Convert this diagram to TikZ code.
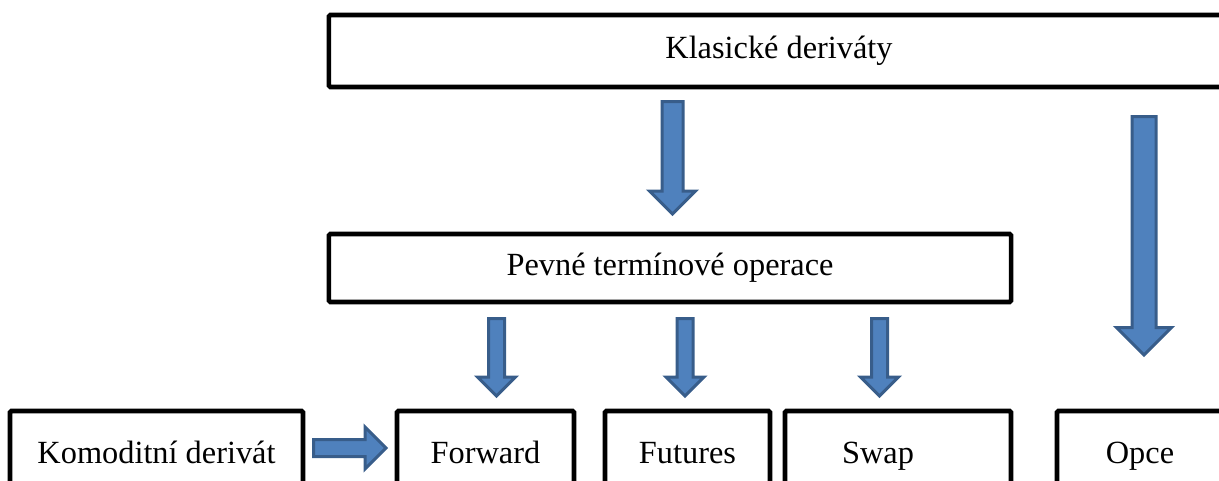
\documentclass[tikz,border=0pt]{standalone}
\usepackage{fontspec}
\setmainfont{Liberation Serif}
\tikzset{
  dbox/.style={draw, line width=0.115cm, rounded corners=1pt, inner sep=0pt,
    font=\fontsize{23}{27}\selectfont, text height=1em, text depth=0pt},
  barrow/.style={draw={rgb,255:red,56;green,93;blue,138},
    fill={rgb,255:red,79;green,129;blue,189}, line width=0.075cm, line join=miter}
}
% block arrow pointing down: x, top, tip, half shaft, half head
\newcommand{\blkdown}[5]{\draw[barrow] (#1-#4,#2) -- (#1+#4,#2) -- (#1+#4,#3-#5) -- (#1+#5,#3-#5) -- (#1,#3) -- (#1-#5,#3-#5) -- (#1-#4,#3-#5) -- cycle;}
\begin{document}
\begin{tikzpicture}[x=0.025cm,y=-0.025cm]
		\useasboundingbox (0,0) rectangle (1219,481);
		\clip (0,0) rectangle (1219,481);
		\node[dbox, minimum width=22.5cm, minimum height=1.8cm] (klas) at (779,51) {Klasické deriváty};
		\node[dbox, minimum width=17.05cm, minimum height=1.7cm] (pevne) at (670,268) {Pevné termínové operace};
		
		\node[dbox, minimum width=7.325cm, minimum height=2.25cm] (komod) at (156.5,456) {Komoditní derivát};
		\node[dbox, minimum width=4.425cm, minimum height=2.25cm] (forward) at (485.5,456) {Forward};
		\node[dbox, minimum width=4.125cm, minimum height=2.25cm] (futures) at (687.5,456) {Futures};
		\node[dbox, minimum width=5.65cm, minimum height=2.25cm, label={[xshift=-0.5cm, font=\fontsize{23}{27}\selectfont, text height=1em, text depth=0pt]center:Swap}] (swap) at (898,456) {};
		\node[dbox, minimum width=4.15cm, minimum height=2.25cm] (opce) at (1140,456) {Opce};
		
		\blkdown{672.5}{101.5}{214}{10.5}{23}
		\blkdown{1144}{116.5}{355}{12}{27.5}
		\blkdown{496.5}{318.5}{396}{8}{19}
		\blkdown{685}{318.5}{396}{8}{19}
		\blkdown{879.5}{318.5}{396}{8}{19}
		\draw[barrow] (313.5,439.5) -- (365,439.5) -- (365,427) -- (386,448) -- (365,469) -- (365,456.5) -- (313.5,456.5) -- cycle;
		\end{tikzpicture}
\end{document}
